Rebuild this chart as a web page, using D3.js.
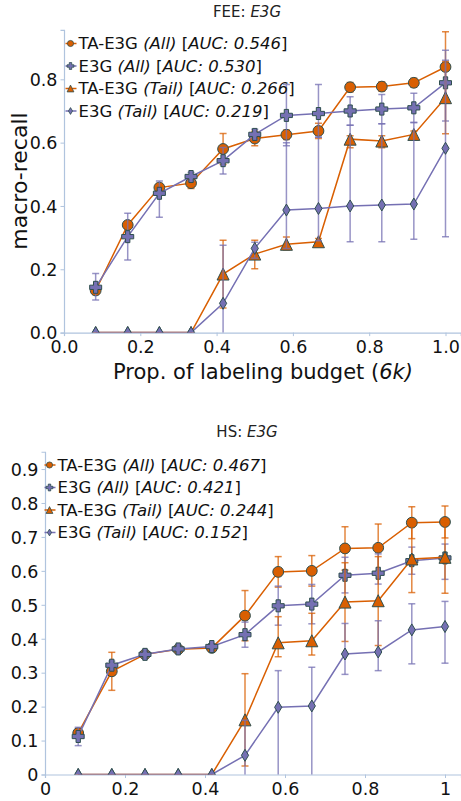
<!DOCTYPE html>
<html><head><meta charset="utf-8">
<script src="https://cdn.jsdelivr.net/npm/d3@7"></script>
<style>
html,body{margin:0;padding:0;background:#fff;}
svg{display:block;font-family:"DejaVu Sans",sans-serif;}
</style></head>
<body><svg id="c" width="461" height="801"></svg>
<script>
// ---------- data ----------
const budget = [0.083, 0.167, 0.25, 0.333, 0.417, 0.5, 0.583, 0.667, 0.75, 0.833, 0.917, 1.0];
const seriesNames = ["TA-E3G", "E3G", "TA-E3G", "E3G"];
const seriesSubsets = ["All", "All", "Tail", "Tail"];

// FEE panel
const feeAUC = ["0.546", "0.530", "0.266", "0.219"];
const feeTaAll     = [0.133, 0.340, 0.458, 0.472, 0.580, 0.613, 0.625, 0.637, 0.775, 0.777, 0.789, 0.839];
const feeTaAllLo   = [0.120, 0.330, 0.445, 0.455, 0.531, 0.590, 0.610, 0.613, 0.760, 0.762, 0.775, 0.729];
const feeTaAllHi   = [0.146, 0.350, 0.471, 0.489, 0.629, 0.636, 0.640, 0.661, 0.790, 0.792, 0.803, 0.950];
const feeE3gAll    = [0.143, 0.303, 0.440, 0.493, 0.543, 0.626, 0.686, 0.692, 0.700, 0.706, 0.710, 0.789];
const feeE3gAllLo  = [0.103, 0.229, 0.364, 0.480, 0.501, 0.610, 0.590, 0.617, 0.655, 0.660, 0.664, 0.668];
const feeE3gAllHi  = [0.187, 0.377, 0.479, 0.506, 0.585, 0.642, 0.784, 0.784, 0.745, 0.752, 0.756, 0.892];
const feeTaTail    = [0, 0, 0, 0, 0.185, 0.248, 0.279, 0.287, 0.611, 0.605, 0.626, 0.742];
const feeTaTailLo  = [0, 0, 0, 0, 0.078, 0.202, 0.261, 0.277, 0.584, 0.584, 0.610, 0.628];
const feeTaTailHi  = [0, 0, 0, 0, 0.292, 0.292, 0.302, 0.297, 0.622, 0.622, 0.637, 0.856];
const feeE3gTail   = [0, 0, 0, 0, 0.0925, 0.266, 0.387, 0.392, 0.400, 0.403, 0.406, 0.582];
const feeE3gTailLo = [0, 0, 0, 0, -0.09, 0.235, 0.266, 0.290, 0.287, 0.287, 0.295, 0.303];
const feeE3gTailHi = [0, 0, 0, 0, 0.276, 0.285, 0.600, 0.617, 0.655, 0.660, 0.664, 0.860];
const feeYTicks = [0.0, 0.2, 0.4, 0.6, 0.8];
const feeXTicks = [0.0, 0.2, 0.4, 0.6, 0.8, 1.0];

// HS panel
const hsAUC = ["0.467", "0.421", "0.244", "0.152"];
const hsTaAll     = [0.122, 0.304, 0.354, 0.369, 0.373, 0.468, 0.597, 0.600, 0.666, 0.668, 0.742, 0.744];
const hsTaAllLo   = [0.110, 0.248, 0.345, 0.360, 0.365, 0.394, 0.552, 0.555, 0.602, 0.598, 0.695, 0.697];
const hsTaAllHi   = [0.135, 0.360, 0.363, 0.378, 0.381, 0.542, 0.642, 0.645, 0.730, 0.738, 0.789, 0.791];
const hsE3gAll    = [0.112, 0.322, 0.354, 0.370, 0.377, 0.412, 0.497, 0.502, 0.587, 0.593, 0.630, 0.638];
const hsE3gAllLo  = [0.085, 0.310, 0.345, 0.362, 0.370, 0.375, 0.440, 0.444, 0.535, 0.561, 0.590, 0.575];
const hsE3gAllHi  = [0.139, 0.334, 0.363, 0.378, 0.384, 0.449, 0.555, 0.560, 0.640, 0.650, 0.670, 0.679];
const hsTaTail    = [0, 0, 0, 0, 0, 0.161, 0.388, 0.394, 0.508, 0.512, 0.635, 0.640];
const hsTaTailLo  = [0, 0, 0, 0, 0, 0.025, 0.347, 0.352, 0.392, 0.380, 0.536, 0.534];
const hsTaTailHi  = [0, 0, 0, 0, 0, 0.297, 0.465, 0.475, 0.624, 0.642, 0.734, 0.746];
const hsE3gTail   = [0, 0, 0, 0, 0, 0.0565, 0.198, 0.202, 0.355, 0.361, 0.426, 0.436];
const hsE3gTailLo = [0, 0, 0, 0, 0, -0.05, -0.01, -0.01, 0.295, 0.306, 0.326, 0.328];
const hsE3gTailHi = [0, 0, 0, 0, 0, 0.160, 0.306, 0.316, 0.445, 0.453, 0.503, 0.510];
const hsYTicks = [0, 0.1, 0.2, 0.3, 0.4, 0.5, 0.6, 0.7, 0.8, 0.9];
const hsXTicks = [0, 0.2, 0.4, 0.6, 0.8, 1];

// ---------- style ----------
const ORANGE = "#d95f02", PURPLE = "#7570b3", EDGE = "#2f4f4f", SPINE = "#b0c4de";
const seriesColors = [ORANGE, PURPLE, ORANGE, PURPLE];
const seriesShapes = ["circle", "plus", "triangle", "diamond"];

function shapePath(shape, s) {
  const p = d3.path();
  if (shape === "circle") { p.arc(0, 0, s * 0.9, 0, 2 * Math.PI); p.closePath(); }
  else if (shape === "plus") {
    const a = s, t = s * 0.36;
    const pts = [[-t,-a],[t,-a],[t,-t],[a,-t],[a,t],[t,t],[t,a],[-t,a],[-t,t],[-a,t],[-a,-t],[-t,-t]];
    p.moveTo(pts[0][0], pts[0][1]); pts.slice(1).forEach(q => p.lineTo(q[0], q[1])); p.closePath();
  } else if (shape === "triangle") {
    p.moveTo(0, -s); p.lineTo(s, s); p.lineTo(-s, s); p.closePath();
  } else {
    p.moveTo(0, -s); p.lineTo(s * 0.6, 0); p.lineTo(0, s); p.lineTo(-s * 0.6, 0); p.closePath();
  }
  return p.toString();
}

const svg = d3.select("#c");

function panel(cfg, idx) {
  const x = d3.scaleLinear().domain([0, 1.04]).range([cfg.left, cfg.left + 1.04 * cfg.xUnit]);
  const y = d3.scaleLinear().domain([0, cfg.yMax]).range([cfg.bottom, cfg.bottom - cfg.yMax * cfg.yUnit]);
  const g = svg.append("g");

  // title
  const t = g.append("text").attr("x", cfg.titleX).attr("y", cfg.titleY)
    .attr("text-anchor", "middle").attr("font-size", 15).attr("fill", "#222");
  t.append("tspan").text(cfg.titleA);
  t.append("tspan").attr("font-style", "italic").text(cfg.titleB);

  // axes
  const xa = g.append("g").attr("transform", `translate(0,${cfg.bottom})`)
    .call(d3.axisBottom(x).tickValues(cfg.xTicks).tickFormat(cfg.xFmt).tickSize(3.5).tickPadding(4));
  const ya = g.append("g").attr("transform", `translate(${cfg.left},0)`)
    .call(d3.axisLeft(y).tickValues(cfg.yTicks).tickFormat(cfg.yFmt).tickSize(3.5).tickPadding(3));
  [xa, ya].forEach(a => {
    a.select(".domain").attr("stroke", SPINE).attr("stroke-width", 1.2);
    a.selectAll(".tick line").attr("stroke", SPINE);
    a.selectAll(".tick text").attr("font-size", 17.5).attr("fill", "#111").attr("font-family", "DejaVu Sans");
  });
  xa.selectAll(".tick text").attr("dy", "0.72em");
  ya.selectAll(".tick text").attr("dy", "0.36em");

  // clip
  const cid = "clip" + idx;
  g.append("clipPath").attr("id", cid).append("rect")
    .attr("x", cfg.left).attr("y", y(cfg.yMax)).attr("width", x(1.04) - cfg.left).attr("height", cfg.bottom - y(cfg.yMax));
  const plot = g.append("g").attr("clip-path", `url(#${cid})`);

  cfg.series.forEach((s, i) => {
    const col = seriesColors[i];
    const sg = plot.append("g");
    const pts = budget.map((b, k) => ({ x: b, m: s.mean[k], lo: s.lo[k], hi: s.hi[k] }));
    const eb = pts.filter(d => d.hi > d.lo);
    sg.selectAll("line.v").data(eb).join("line")
      .attr("x1", d => x(d.x)).attr("x2", d => x(d.x)).attr("y1", d => y(d.lo)).attr("y2", d => y(d.hi))
      .attr("stroke", col).attr("stroke-width", 1.5).attr("stroke-opacity", 0.75);
    ["lo", "hi"].forEach(key => {
      sg.selectAll("line.c" + key).data(eb).join("line")
        .attr("x1", d => x(d.x) - 3.5).attr("x2", d => x(d.x) + 3.5)
        .attr("y1", d => y(d[key])).attr("y2", d => y(d[key]))
        .attr("stroke", col).attr("stroke-width", 1.5).attr("stroke-opacity", 0.75);
    });
    sg.append("path").datum(pts)
      .attr("d", d3.line().x(d => x(d.x)).y(d => y(d.m)))
      .attr("fill", "none").attr("stroke", col).attr("stroke-width", 1.5);
    sg.selectAll("path.mk").data(pts).join("path")
      .attr("transform", d => `translate(${x(d.x)},${y(d.m)})`)
      .attr("d", shapePath(seriesShapes[i], 6))
      .attr("fill", col).attr("stroke", EDGE).attr("stroke-width", 1);
  });

  // legend
  cfg.series.forEach((s, i) => {
    const ly = cfg.legY + i * 22.5;
    const col = seriesColors[i];
    g.append("line").attr("x1", cfg.legX - 5).attr("x2", cfg.legX + 6).attr("y1", ly).attr("y2", ly)
      .attr("stroke", col).attr("stroke-width", 1.5);
    g.append("path").attr("transform", `translate(${cfg.legX},${ly})`)
      .attr("d", shapePath(seriesShapes[i], 3.4)).attr("fill", col).attr("stroke", EDGE).attr("stroke-width", 0.8);
    const tx = g.append("text").attr("x", cfg.legX + 8).attr("y", ly).attr("dy", "0.36em")
      .attr("font-size", 16.5).attr("fill", "#111");
    tx.append("tspan").text(seriesNames[i] + " ");
    tx.append("tspan").attr("font-style", "italic").text("(" + seriesSubsets[i] + ")");
    tx.append("tspan").text(" [");
    tx.append("tspan").attr("font-style", "italic").text("AUC: " + cfg.auc[i]);
    tx.append("tspan").text("]");
  });
  return g;
}

const g1 = panel({
  left: 64, bottom: 332.6, xUnit: 381.5, yUnit: 316.6, yMax: 0.956,
  xTicks: feeXTicks, yTicks: feeYTicks, xFmt: d3.format(".1f"), yFmt: d3.format(".1f"),
  titleX: 247, titleY: 17, titleA: "FEE: ", titleB: "E3G",
  legX: 70.5, legY: 43.5, auc: feeAUC,
  series: [
    { mean: feeTaAll, lo: feeTaAllLo, hi: feeTaAllHi },
    { mean: feeE3gAll, lo: feeE3gAllLo, hi: feeE3gAllHi },
    { mean: feeTaTail, lo: feeTaTailLo, hi: feeTaTailHi },
    { mean: feeE3gTail, lo: feeE3gTailLo, hi: feeE3gTailHi }
  ]
}, 1);
g1.append("text").attr("x", 263).attr("y", 379).attr("text-anchor", "middle").attr("font-size", 21).attr("fill", "#111")
  .call(t => { t.append("tspan").text("Prop. of labeling budget ("); t.append("tspan").attr("font-style", "italic").text("6k)"); });
g1.append("text").attr("transform", "translate(27,181) rotate(-90)").attr("text-anchor", "middle")
  .attr("font-size", 22).attr("fill", "#111").text("macro-recall");

panel({
  left: 45, bottom: 774.5, xUnit: 400, yUnit: 339.4, yMax: 0.951,
  xTicks: hsXTicks, yTicks: hsYTicks, xFmt: d3.format("~g"), yFmt: d3.format("~g"),
  titleX: 247, titleY: 437, titleA: "HS: ", titleB: "E3G",
  legX: 49.5, legY: 465, auc: hsAUC,
  series: [
    { mean: hsTaAll, lo: hsTaAllLo, hi: hsTaAllHi },
    { mean: hsE3gAll, lo: hsE3gAllLo, hi: hsE3gAllHi },
    { mean: hsTaTail, lo: hsTaTailLo, hi: hsTaTailHi },
    { mean: hsE3gTail, lo: hsE3gTailLo, hi: hsE3gTailHi }
  ]
}, 2);
</script></body></html>
